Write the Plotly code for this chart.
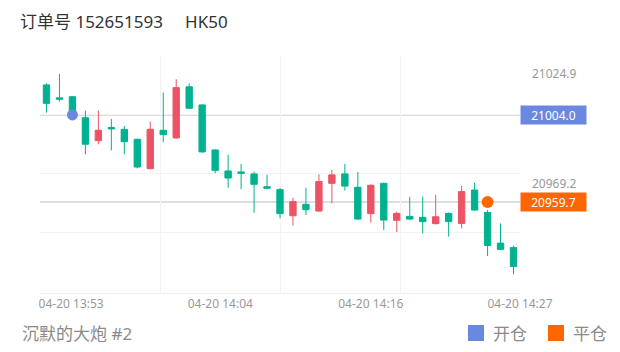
import plotly.graph_objects as go

# ---------------- data ----------------
times = ["13:51", "13:52", "13:53", "13:54", "13:55", "13:56", "13:57", "13:58", "13:59", "14:00",
         "14:01", "14:02", "14:03", "14:04", "14:05", "14:06", "14:07", "14:08", "14:09", "14:10",
         "14:11", "14:12", "14:13", "14:14", "14:15", "14:16", "14:17", "14:18", "14:19", "14:20",
         "14:21", "14:22", "14:23", "14:24", "14:25", "14:26", "14:27"]
opens = [21019.3, 21012.7, 21013.3, 21002.6, 20990.9, 20997.6, 20996.7, 20991.6, 20976.7, 20996.2,
         20992.3, 21018.3, 21009.1, 20986.2, 20975.5, 20975.0, 20974.0, 20967.5, 20966.0, 20952.7,
         20958.5, 20955.1, 20969.2, 20974.0, 20967.2, 20953.8, 20969.2, 20950.4, 20952.4, 20951.9,
         20948.7, 20953.9, 20948.8, 20965.8, 20954.4, 20938.8, 20936.5]
highs = [21020.1, 21024.9, 21013.5, 21006.2, 21006.2, 21002.0, 20998.4, 20992.0, 21000.6, 21015.4,
         21022.2, 21020.1, 21009.4, 20986.5, 20983.8, 20979.1, 20975.2, 20973.6, 20966.8, 20961.9,
         20967.0, 20973.8, 20976.0, 20979.1, 20975.0, 20968.7, 20969.5, 20954.8, 20962.4, 20962.4,
         20963.4, 20954.4, 20968.0, 20969.5, 20955.6, 20948.8, 20937.5]
lows = [21005.2, 21010.8, 21003.5, 20984.0, 20989.1, 20986.0, 20984.0, 20976.8, 20976.3, 20990.1,
        20992.0, 21007.1, 20984.8, 20974.3, 20967.0, 20966.2, 20954.3, 20966.3, 20951.4, 20947.7,
        20953.1, 20954.8, 20959.0, 20965.5, 20950.7, 20949.2, 20945.4, 20944.4, 20950.5, 20943.7,
        20948.3, 20942.1, 20946.3, 20955.3, 20932.2, 20935.3, 20923.0]
closes = [21009.9, 21012.0, 21004.0, 20989.1, 20996.2, 20996.9, 20990.4, 20977.5, 20996.7, 20994.0,
          21017.9, 21007.4, 20985.2, 20975.8, 20971.9, 20974.3, 20968.7, 20966.7, 20953.8, 20959.9,
          20955.8, 20970.1, 20973.5, 20967.8, 20951.0, 20968.2, 20950.5, 20953.9, 20951.0, 20949.7,
          20952.2, 20949.7, 20965.0, 20955.6, 20937.6, 20935.6, 20926.9]

open_time, open_price = "13:53", 21004.0     # 开仓
close_time, close_price = "14:25", 20959.7   # 平仓

x_tick_text = ["04-20 13:53", "04-20 14:04", "04-20 14:16", "04-20 14:27"]
x_tick_pos = [1.9, 13.4, 25.0, 36.5]
x_grid_pos = [8.75, 18.0, 27.26, 36.5]
y_tick_vals = [21024.9, 20969.2]
y_grid_vals = [20944, 20974, 21004, 21034]

title_order = "订单号 152651593"
symbol = "HK50"
user_name = "沉默的大炮 #2"
legend_names = ["开仓", "平仓"]

# ---------------- style ----------------
GREEN = "#00b28f"
RED = "#ec5466"
BLUE = "#6b88e0"
ORANGE = "#ff6600"
FONT = "Noto Sans, Noto Sans CJK SC, sans-serif"

W, H = 620, 352
ML, MR, MT, MB = 40, 100, 56, 59
PW, PH = W - ML - MR, H - MT - MB


def px_x(px):
    return (px - ML) / PW


def px_y(py):
    return (H - MB - py) / PH


xs = list(range(len(times)))
idx = {t: i for i, t in enumerate(times)}

fig = go.Figure()
fig.add_trace(go.Candlestick(
    x=xs, open=opens, high=highs, low=lows, close=closes,
    increasing=dict(line=dict(color=RED, width=1), fillcolor=RED),
    decreasing=dict(line=dict(color=GREEN, width=1), fillcolor=GREEN),
    whiskerwidth=0, showlegend=False, hoverinfo="skip"))

# price lines
for p in (open_price, close_price):
    fig.add_shape(type="line", xref="paper", x0=0, x1=1, yref="y", y0=p, y1=p,
                  line=dict(color="#dedede", width=2), layer="below")

fig.add_trace(go.Scatter(x=[idx[open_time]], y=[open_price], mode="markers", name=legend_names[0],
                         marker=dict(size=11, color=BLUE), showlegend=False, hoverinfo="skip"))
fig.add_trace(go.Scatter(x=[idx[close_time]], y=[close_price], mode="markers", name=legend_names[1],
                         marker=dict(size=12, color=ORANGE), showlegend=False, hoverinfo="skip"))

# price tags
for p, c in ((open_price, BLUE), (close_price, ORANGE)):
    fig.add_annotation(xref="paper", x=1, xanchor="left", yref="y", y=p, yanchor="middle",
                       text=f"{p:.1f}", showarrow=False, bgcolor=c, width=61, height=14,
                       borderpad=2, align="center",
                       font=dict(color="white", size=12, family=FONT))

fig.add_annotation(xref="paper", yref="paper", x=px_x(20), y=px_y(333), xanchor="left",
                   yanchor="middle", text=user_name, showarrow=False,
                   font=dict(color="#8a8a8a", size=17, family=FONT))

# custom legend (squares + labels)
for (sq_left, txt_left), name, c in zip(((468, 491), (548, 571)), legend_names, (BLUE, ORANGE)):
    fig.add_shape(type="rect", xref="paper", yref="paper",
                  x0=px_x(sq_left), x1=px_x(sq_left + 16), y0=px_y(341), y1=px_y(325),
                  fillcolor=c, line=dict(width=0))
    fig.add_annotation(xref="paper", yref="paper", x=px_x(txt_left), y=px_y(333),
                       xanchor="left", yanchor="middle", text=name, showarrow=False,
                       font=dict(color="#8a8a8a", size=17, family=FONT))

fig.update_layout(
    width=W, height=H, margin=dict(l=ML, r=MR, t=MT, b=MB, autoexpand=False),
    paper_bgcolor="white", plot_bgcolor="white",
    font=dict(family=FONT, color="#999999", size=12),
    title=dict(text=title_order + "\u00a0" * 5 + symbol, xref="container", yref="container",
               x=20 / W, y=1 - 22 / H, xanchor="left", yanchor="middle",
               font=dict(size=17, color="#333333", family=FONT)),
    showlegend=False,
    xaxis=dict(range=[-0.5, len(times) - 0.5], rangeslider=dict(visible=False),
               tickmode="array", tickvals=x_tick_pos, ticktext=x_tick_text,
               showgrid=False, zeroline=False, showline=True, linecolor="#f0f0f0",
               ticks="", tickfont=dict(size=12, color="#999999"), automargin=False,
               minor=dict(tickvals=x_grid_pos, showgrid=True, gridcolor="#f2f2f2", gridwidth=1)),
    yaxis=dict(range=[20913.4, 21034.0], side="right", tickmode="array",
               tickvals=y_tick_vals, ticktext=[f"{v:.1f}" for v in y_tick_vals],
               showgrid=False, zeroline=False, ticks="", ticklabelstandoff=11,
               tickfont=dict(size=12, color="#999999"), automargin=False,
               minor=dict(tickvals=y_grid_vals, showgrid=True, gridcolor="#f2f2f2", gridwidth=1)),
)

fig.write_html("out.html")
